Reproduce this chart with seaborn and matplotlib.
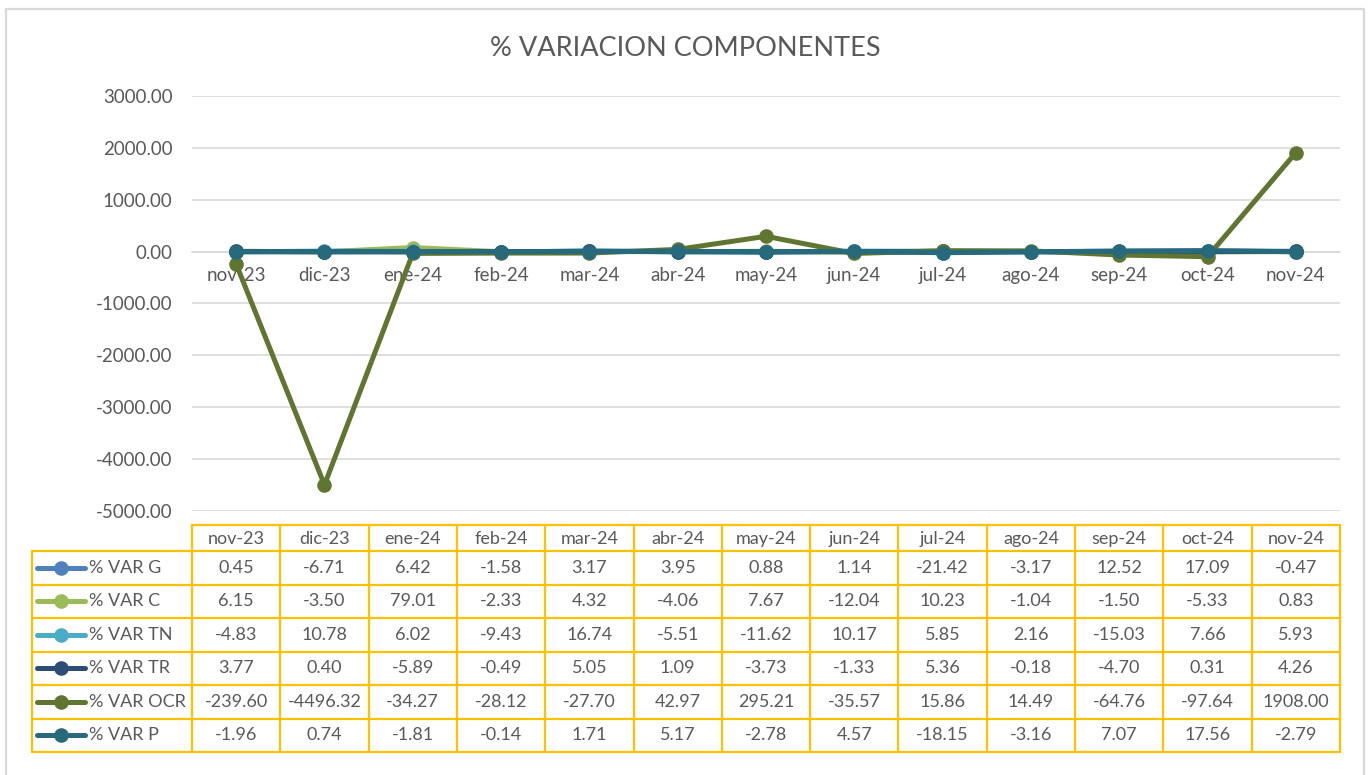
import matplotlib
matplotlib.use("Agg")
import matplotlib.pyplot as plt
import seaborn as sns
import pandas as pd
from matplotlib.lines import Line2D

meses = ["nov-23", "dic-23", "ene-24", "feb-24", "mar-24", "abr-24", "may-24",
         "jun-24", "jul-24", "ago-24", "sep-24", "oct-24", "nov-24"]

var_g = [0.45, -6.71, 6.42, -1.58, 3.17, 3.95, 0.88, 1.14, -21.42, -3.17, 12.52, 17.09, -0.47]
var_c = [6.15, -3.50, 79.01, -2.33, 4.32, -4.06, 7.67, -12.04, 10.23, -1.04, -1.50, -5.33, 0.83]
var_tn = [-4.83, 10.78, 6.02, -9.43, 16.74, -5.51, -11.62, 10.17, 5.85, 2.16, -15.03, 7.66, 5.93]
var_tr = [3.77, 0.40, -5.89, -0.49, 5.05, 1.09, -3.73, -1.33, 5.36, -0.18, -4.70, 0.31, 4.26]
var_ocr = [-239.60, -4496.32, -34.27, -28.12, -27.70, 42.97, 295.21, -35.57, 15.86, 14.49, -64.76, -97.64, 1908.00]
var_p = [-1.96, 0.74, -1.81, -0.14, 1.71, 5.17, -2.78, 4.57, -18.15, -3.16, 7.07, 17.56, -2.79]

series_names = ["% VAR G", "% VAR C", "% VAR TN", "% VAR TR", "% VAR OCR", "% VAR P"]
series_values = [var_g, var_c, var_tn, var_tr, var_ocr, var_p]
colors = ["#4F81BD", "#9BBB59", "#4BACC6", "#2C4D75", "#5F7530", "#276A7C"]

y_ticks = [3000, 2000, 1000, 0, -1000, -2000, -3000, -4000, -5000]

TXT = "#595959"
GRID = "#D9D9D9"
GOLD = "#FFC000"
FS = 13

rows = []
for name, vals in zip(series_names, series_values):
    for m, v in zip(meses, vals):
        rows.append({"mes": m, "valor": v, "serie": name})
df = pd.DataFrame(rows)

sns.set_style("white")
plt.rcParams["font.family"] = ["Lato", "DejaVu Sans"]

W, H = 1370, 775
fig = plt.figure(figsize=(W / 100, H / 100), dpi=100)

# plot area in pixel coordinates
px_l, px_r, px_t, px_b = 192, 1340, 96, 511
ax = fig.add_axes([px_l / W, 1 - px_b / H, (px_r - px_l) / W, (px_b - px_t) / H])

sns.lineplot(data=df, x="mes", y="valor", hue="serie", hue_order=series_names,
             palette=colors, marker="o", markersize=10.5, markeredgewidth=0,
             linewidth=3.6, sort=False, legend=False, ax=ax, zorder=3)

ax.set_xlim(-0.5, len(meses) - 0.5)
ax.set_ylim(-5000, 3000)
ax.set_yticks(y_ticks)
ax.set_yticklabels([f"{t:.2f}" for t in y_ticks])
ax.set_xticks(range(len(meses)))
ax.set_xticklabels(meses)
ax.set_xlabel("")
ax.set_ylabel("")
ax.grid(axis="y", color=GRID, linewidth=1.2)
ax.grid(axis="x", visible=False)
ax.set_axisbelow(True)
for s in ["top", "right", "left"]:
    ax.spines[s].set_visible(False)
ax.spines["bottom"].set_position(("data", 0))
ax.spines["bottom"].set_color(GRID)
ax.spines["bottom"].set_linewidth(1.2)
ax.tick_params(axis="y", length=0, pad=14, labelsize=13.5, labelcolor=TXT)
ax.tick_params(axis="x", length=0, pad=11, labelsize=13.5, labelcolor=TXT)

fig.text(0.5, 1 - 48 / H, "% VARIACION COMPONENTES", ha="center", va="center",
         fontsize=19.5, color=TXT)

# data table drawn below the plot, in pixel coordinates
tab = fig.add_axes([0, 0, 1, 1])
tab.set_xlim(0, W)
tab.set_ylim(H, 0)
tab.axis("off")
tab.patch.set_alpha(0)

col_w = (px_r - px_l) / len(meses)
col_x = [px_l + i * col_w for i in range(len(meses) + 1)]
leg_l = 32
head_t, head_b = 525, 551
row_h = (752 - head_b) / len(series_names)
row_y = [head_b + k * row_h for k in range(len(series_names) + 1)]

lw = 1.6
tab.plot([px_l, px_r], [head_t, head_t], color=GOLD, lw=lw)
for x in col_x:
    tab.plot([x, x], [head_t, row_y[-1]], color=GOLD, lw=lw)
tab.plot([leg_l, leg_l], [head_b, row_y[-1]], color=GOLD, lw=lw)
for y in row_y:
    tab.plot([leg_l, px_r], [y, y], color=GOLD, lw=lw)

for i, m in enumerate(meses):
    tab.text((col_x[i] + col_x[i + 1]) / 2, (head_t + head_b) / 2 + 1, m,
             ha="center", va="center", fontsize=FS, color=TXT)

for k, (name, vals, c) in enumerate(zip(series_names, series_values, colors)):
    yc = (row_y[k] + row_y[k + 1]) / 2
    tab.add_line(Line2D([37, 85], [yc, yc], color=c, lw=3.6, solid_capstyle="round"))
    tab.plot([61], [yc], marker="o", markersize=10.5, markeredgewidth=0, color=c)
    tab.text(89, yc, name, ha="left", va="center", fontsize=FS, color=TXT)
    for i, v in enumerate(vals):
        tab.text((col_x[i] + col_x[i + 1]) / 2, yc, f"{v:.2f}",
                 ha="center", va="center", fontsize=FS, color=TXT)

# outer chart border
tab.plot([6, 6], [H + 5, 9], color=GRID, lw=1.6)
tab.plot([6, 1364], [9, 9], color=GRID, lw=1.6)
tab.plot([1364, 1364], [9, H + 5], color=GRID, lw=1.6)

fig.savefig("out.png", dpi=100, facecolor="white")
